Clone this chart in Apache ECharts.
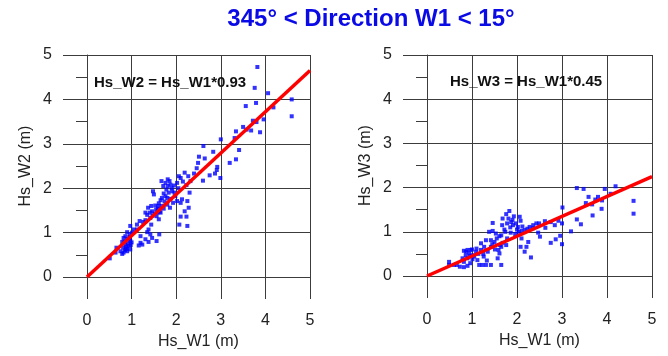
<!DOCTYPE html>
<html>
<head>
<meta charset="utf-8">
<script src="https://cdn.jsdelivr.net/npm/echarts@6/dist/echarts.min.js"></script>
<style>
html,body{margin:0;padding:0;background:#fff;}
#chart{width:668px;height:356px;}
</style>
</head>
<body>
<div id="chart"></div>
<script>
// ---- data ----
var titleText = '345\u00b0 < Direction W1 < 15\u00b0';
var xTicks = [0, 1, 2, 3, 4, 5];
var yTicks = [0, 1, 2, 3, 4, 5];
var xName = 'Hs_W1 (m)';
var yNameLeft = 'Hs_W2 (m)';
var yNameRight = 'Hs_W3 (m)';
var eqLeft = 'Hs_W2 = Hs_W1*0.93';
var eqRight = 'Hs_W3 = Hs_W1*0.45';
var fitLeft = [[0, 0], [5, 4.65]];
var fitRight = [[0, 0], [5, 2.25]];

var w2Points = [
[3.82,4.73],[3.76,4.26],[4.06,4.14],[4.59,4.0],[4.59,3.62],[4.18,3.82],[3.79,3.92],[3.56,3.85],
[3.96,3.55],[3.72,3.52],[3.8,3.49],[3.5,3.38],[3.58,3.32],[3.68,3.3],[3.88,3.26],[3.34,3.28],
[3.31,3.13],[3.0,3.1],[3.41,2.86],[3.34,2.65],[3.2,2.57],[2.83,2.82],[2.61,2.95],[2.51,2.71],
[2.64,2.67],[2.49,2.57],[2.46,2.45],[2.92,2.48],[2.91,2.41],[2.75,2.29],[2.87,2.33],[2.99,2.23],
[2.6,2.17],[2.19,2.35],[2.27,2.27],[2.4,2.33],[2.06,2.27],[2.1,2.23],[2.32,2.16],[2.23,2.07],
[2.3,1.9],[2.25,1.71],[2.28,1.56],[2.19,1.48],[2.1,1.36],[2.23,1.36],[2.07,1.18],[2.25,1.15],
[1.67,2.16],[1.76,2.12],[1.81,2.05],[1.87,2.08],[1.95,2.06],[2.02,2.12],[1.78,1.97],[1.83,1.9],
[1.91,1.93],[1.98,1.82],[2.02,1.71],[2.13,1.75],[2.1,1.67],[1.93,1.67],[1.76,1.82],[1.48,1.93],
[1.5,1.86],[1.61,1.66],[1.68,1.6],[1.59,1.54],[1.46,1.48],[1.37,1.56],[1.31,1.45],[1.41,1.45],
[1.51,1.43],[1.65,1.45],[1.72,1.54],[1.56,1.37],[1.42,1.33],[1.31,1.28],[1.61,1.3],[1.44,1.18],
[1.38,1.07],[1.35,1.01],[1.42,0.96],[1.62,0.96],[1.46,0.88],[1.56,0.81],[1.31,0.85],[1.38,0.79],
[1.2,0.92],[1.2,0.77],[1.16,0.71],[1.24,0.73],[1.12,1.07],[1.05,1.07],[1.12,1.18],[0.97,1.15],
[0.9,1.01],[0.96,0.96],[0.86,0.92],[0.82,0.88],[0.9,0.85],[0.97,0.81],[0.79,0.79],[0.86,0.73],
[0.94,0.7],[0.81,0.66],[0.9,0.64],[0.97,0.62],[0.75,0.58],[0.82,0.55],[0.9,0.58],[0.79,0.52],
[0.66,0.66],[0.64,0.55],[0.51,0.42],[0.96,0.88],[1.01,1.0],[1.81,2.2],[1.85,2.16],[1.71,2.05],
[1.8,1.78],[1.87,1.76],[1.65,1.73],[1.74,1.7],[1.53,1.61],[1.44,1.6],[1.8,1.63],[1.86,1.56],
[1.63,1.47],[1.26,1.24],[1.18,1.26],[0.92,0.75],[0.88,0.68],[0.95,0.9],[1.0,0.78],[0.85,0.6],
[1.9,2.0],[1.72,1.88],[1.55,1.52],[1.47,1.38],[1.68,1.78],[1.96,1.9],[2.05,2.0],[1.58,1.45],
[0.93,0.84],[0.84,0.8],[0.98,0.72],[0.87,0.63],[1.35,1.4],[2.15,2.15],[1.6,1.6]
];

var w3Points = [
[3.33,1.99],[3.48,1.97],[3.95,1.97],[4.19,2.03],[4.08,1.86],[4.59,1.7],[4.59,1.41],[3.59,1.79],
[3.74,1.73],[3.8,1.79],[3.89,1.71],[3.53,1.65],[3.67,1.62],[3.88,1.52],[3.68,1.37],[3.01,1.55],
[3.33,1.28],[3.42,1.17],[3.2,1.01],[3.0,1.19],[2.92,1.25],[2.84,1.15],[2.75,1.22],[2.62,1.24],
[2.63,1.09],[2.49,1.19],[2.43,1.19],[2.36,1.15],[2.28,1.11],[2.23,1.07],[2.17,1.04],[2.51,0.89],
[2.47,0.98],[2.96,0.91],[2.86,0.83],[2.75,0.75],[3.0,0.72],[2.1,1.02],[2.02,1.11],[1.97,1.19],
[1.93,1.35],[1.83,1.47],[1.76,1.4],[1.81,1.3],[1.87,1.22],[1.68,1.3],[1.78,1.19],[1.91,1.15],
[2.06,1.34],[2.08,1.25],[1.86,0.98],[1.96,0.95],[2.04,1.0],[2.1,0.85],[2.25,0.77],[2.21,0.66],
[2.08,0.66],[2.17,0.55],[2.31,0.42],[1.46,1.2],[1.67,1.15],[1.46,1.02],[1.38,1.0],[1.53,0.96],
[1.65,0.92],[1.61,0.9],[1.74,1.0],[1.31,0.81],[1.42,0.81],[1.5,0.77],[1.2,0.74],[1.27,0.66],
[1.42,0.66],[1.51,0.6],[1.59,0.59],[1.65,0.66],[1.68,0.75],[1.76,0.7],[1.61,0.51],[1.57,0.4],
[1.65,0.25],[1.35,0.55],[1.26,0.44],[1.33,0.35],[1.16,0.25],[1.23,0.25],[1.31,0.25],[1.42,0.25],
[1.12,0.36],[0.97,0.59],[0.9,0.59],[0.82,0.57],[0.94,0.51],[0.86,0.47],[1.01,0.47],[1.05,0.44],
[0.9,0.4],[0.79,0.4],[0.82,0.32],[0.96,0.29],[0.73,0.21],[0.82,0.2],[0.9,0.23],[0.66,0.25],
[0.6,0.25],[0.49,0.32],[0.49,0.25],[1.14,0.5],[1.2,0.59],[1.09,0.55],[1.01,0.38],[1.0,0.6],
[1.85,1.1],[1.72,1.05],[1.9,1.27],[2.0,1.05],[1.55,0.85],[1.62,0.7],[1.45,0.72],[1.78,0.85],
[2.12,1.12],[2.35,1.08],[0.95,0.45],[0.87,0.55],[1.25,0.5],[1.1,0.62]
];

// ---- chart ----
var FONT = '"Liberation Sans", Arial, sans-serif';
var gridColor = '#3c3c3c';

function xAxisCfg(gi) {
  return {
    gridIndex: gi, type: 'value', min: xTicks[0], max: xTicks[xTicks.length - 1], interval: 1,
    name: xName, nameLocation: 'middle', nameGap: 57,
    nameTextStyle: {fontFamily: FONT, fontSize: 16, color: '#222'},
    axisLine: {show: true, onZero: false, lineStyle: {color: gridColor, width: 1}},
    axisTick: {show: true, length: 22, lineStyle: {color: gridColor}},
    axisLabel: {margin: 36, fontFamily: FONT, fontSize: 16, color: '#222'},
    splitLine: {show: true, lineStyle: {color: gridColor, width: 1}}
  };
}
function yAxisCfg(gi, nm) {
  return {
    gridIndex: gi, type: 'value', min: yTicks[0], max: yTicks[yTicks.length - 1], interval: 1,
    name: nm, nameLocation: 'middle', nameGap: 53,
    nameTextStyle: {fontFamily: FONT, fontSize: 16, color: '#222'},
    axisLine: {show: true, onZero: false, lineStyle: {color: gridColor, width: 1}},
    axisTick: {show: true, length: 24, lineStyle: {color: gridColor}},
    minorTick: {show: true, splitNumber: 2, length: 11, lineStyle: {color: gridColor}},
    axisLabel: {margin: 35, fontFamily: FONT, fontSize: 16, color: '#222'},
    splitLine: {show: true, lineStyle: {color: gridColor, width: 1}}
  };
}

var chart = echarts.init(document.getElementById('chart'), null, {renderer: 'canvas'});
chart.setOption({
  animation: false,
  backgroundColor: '#ffffff',
  grid: [
    {left: 87, top: 55, width: 223, height: 222},
    {left: 427, top: 55, width: 225, height: 221}
  ],
  xAxis: [xAxisCfg(0), xAxisCfg(1)],
  yAxis: [yAxisCfg(0, yNameLeft), yAxisCfg(1, yNameRight)],
  graphic: [
    {type: 'text', x: 371, y: 19, style: {text: titleText, fill: '#0a0ae6', font: 'bold 24px ' + FONT, textAlign: 'center', textVerticalAlign: 'middle'}},
    {type: 'text', x: 94, y: 83, style: {text: eqLeft, fill: '#111', font: 'bold 15px ' + FONT, textAlign: 'left', textVerticalAlign: 'middle'}, z: 10},
    {type: 'text', x: 450, y: 82, style: {text: eqRight, fill: '#111', font: 'bold 15px ' + FONT, textAlign: 'left', textVerticalAlign: 'middle'}, z: 10}
  ],
  series: [
    {type: 'scatter', xAxisIndex: 0, yAxisIndex: 0, data: w2Points, symbol: 'rect', symbolSize: 4, itemStyle: {color: '#0000ff'}, z: 2},
    {type: 'line', xAxisIndex: 0, yAxisIndex: 0, data: fitLeft, showSymbol: false, symbol: 'none', lineStyle: {color: '#ff0000', width: 3.5}, z: 3},
    {type: 'scatter', xAxisIndex: 1, yAxisIndex: 1, data: w3Points, symbol: 'rect', symbolSize: 4, itemStyle: {color: '#0000ff'}, z: 2},
    {type: 'line', xAxisIndex: 1, yAxisIndex: 1, data: fitRight, showSymbol: false, symbol: 'none', lineStyle: {color: '#ff0000', width: 3.5}, z: 3}
  ]
});
</script>
</body>
</html>
